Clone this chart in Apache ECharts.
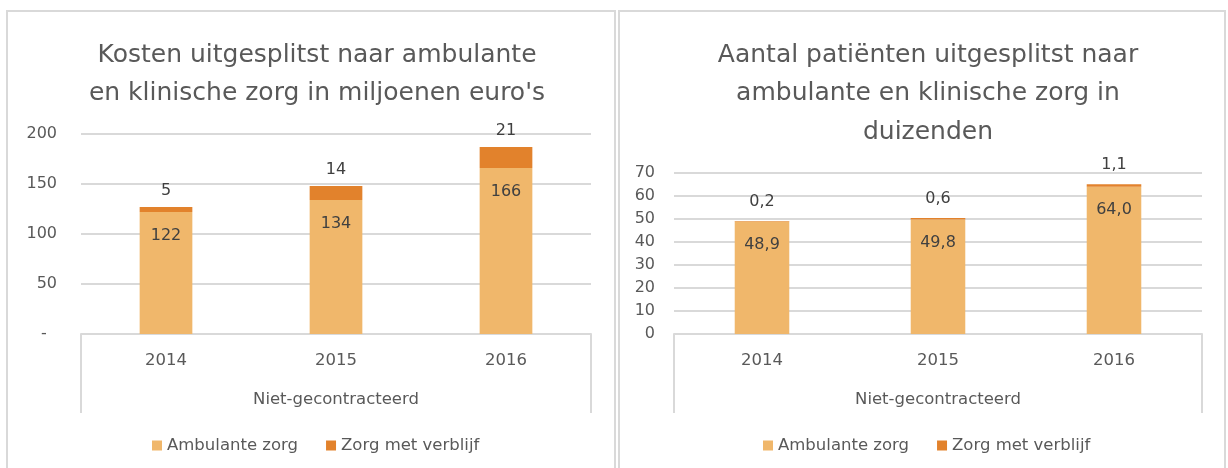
<!DOCTYPE html>
<html>
<head>
<meta charset="utf-8">
<script src="https://cdn.jsdelivr.net/npm/echarts@6/dist/echarts.min.js"></script>
<style>
	html, body { margin: 0; padding: 0; background: #fff; }
	.panel { position: absolute; top: 10px; height: 520px; border: 2px solid #d9d9d9; box-sizing: border-box; }
	#chart { position: absolute; left: 0; top: 0; width: 1228px; height: 468px; }
</style>
</head>
<body>
<div class="panel" style="left:6px;width:610px;"></div>
<div class="panel" style="left:618px;width:608px;"></div>
<div id="chart"></div>
<script>
var years = ['2014', '2015', '2016'];
var groupName = ['Niet-gecontracteerd'];
var seriesNames = ['Ambulante zorg', 'Zorg met verblijf'];
// kosten in miljoenen euro's
var costAmbulant = [122, 134, 166];
var costStay = [5, 14, 21];
// patienten in duizenden
var patientAmbulant = [48.9, 49.8, 64.0];
var patientStay = [0.2, 0.6, 1.1];

var textColor = '#595959';
var labelColor = '#404040';
var lineColor = '#d9d9d9';
var colors = ['#f0b76b', '#e2822c'];
var font = 'DejaVu Sans';

function catAxis(gridIndex, data, margin, tickLen) {
	return {
		type: 'category',
		gridIndex: gridIndex,
		position: 'bottom',
		data: data,
		axisLine: {
			show: !tickLen,
			lineStyle: { color: lineColor, width: 2 }
		},
		axisTick: {
			show: !!tickLen,
			length: tickLen || 5,
			lineStyle: { color: lineColor, width: 2 }
		},
		axisLabel: {
			margin: margin,
			color: textColor,
			fontFamily: font,
			fontSize: 16.5
		}
	};
}

function valAxis(gridIndex, max, interval, margin, fmt) {
	return {
		type: 'value',
		gridIndex: gridIndex,
		min: 0,
		max: max,
		interval: interval,
		axisLine: { show: false },
		axisTick: { show: false },
		splitLine: { lineStyle: { color: lineColor, width: 2 } },
		axisLabel: {
			margin: margin,
			color: textColor,
			fontFamily: font,
			fontSize: 16,
			formatter: fmt
		}
	};
}

function barSeries(name, idx, xi, yi, stack, data, fmt, isTop, dist) {
	return {
		name: name,
		type: 'bar',
		xAxisIndex: xi,
		yAxisIndex: yi,
		stack: stack,
		barWidth: '31%',
		itemStyle: { color: colors[idx] },
		label: {
			show: true,
			position: isTop ? 'top' : 'insideTop',
			distance: dist,
			color: labelColor,
			fontFamily: font,
			fontSize: 16,
			formatter: function(p) {
				return fmt(p.value);
			}
		},
		data: data
	};
}

function legend(left) {
	return {
		left: left,
		top: 437,
		padding: 0,
		itemWidth: 10,
		itemHeight: 10,
		itemGap: 28,
		icon: 'rect',
		data: seriesNames,
		textStyle: { color: textColor, fontFamily: font, fontSize: 16.5 }
	};
}

function intFmt(v) {
	return Math.round(v) + '';
}

function decFmt(v) {
	return v.toFixed(1).replace('.', ',');
}

var ec = echarts.init(document.getElementById('chart'));
ec.setOption({
	animation: false,
	title: [{
		text: "Kosten uitgesplitst naar ambulante\nen klinische zorg in miljoenen euro's",
		left: 312,
		top: 31,
		textAlign: 'center',
		textStyle: { color: textColor, fontFamily: font, fontSize: 25, fontWeight: 'normal', lineHeight: 38 }
	}, {
		text: 'Aantal patiënten uitgesplitst naar\nambulante en klinische zorg in\nduizenden',
		left: 923,
		top: 31,
		textAlign: 'center',
		textStyle: { color: textColor, fontFamily: font, fontSize: 25, fontWeight: 'normal', lineHeight: 38.5 }
	}],
	legend: [legend(152), legend(763)],
	grid: [
		{ left: 81, top: 134, width: 510, height: 200 },
		{ left: 674, top: 173, width: 528, height: 161 }
	],
	xAxis: [
		catAxis(0, years, 18),
		catAxis(0, groupName, 57, 79),
		catAxis(1, years, 18),
		catAxis(1, groupName, 57, 79)
	],
	yAxis: [
		valAxis(0, 200, 50, 24, function(v) {
			return v === 0 ? '-  ' : v + '';
		}),
		valAxis(1, 70, 10, 19)
	],
	series: [
		barSeries(seriesNames[0], 0, 0, 0, 'cost', costAmbulant, intFmt, false, 16),
		barSeries(seriesNames[1], 1, 0, 0, 'cost', costStay, intFmt, true, 8),
		barSeries(seriesNames[0], 0, 2, 1, 'pat', patientAmbulant, decFmt, false, 15),
		barSeries(seriesNames[1], 1, 2, 1, 'pat', patientStay, decFmt, true, 11)
	]
});
</script>
</body>
</html>
